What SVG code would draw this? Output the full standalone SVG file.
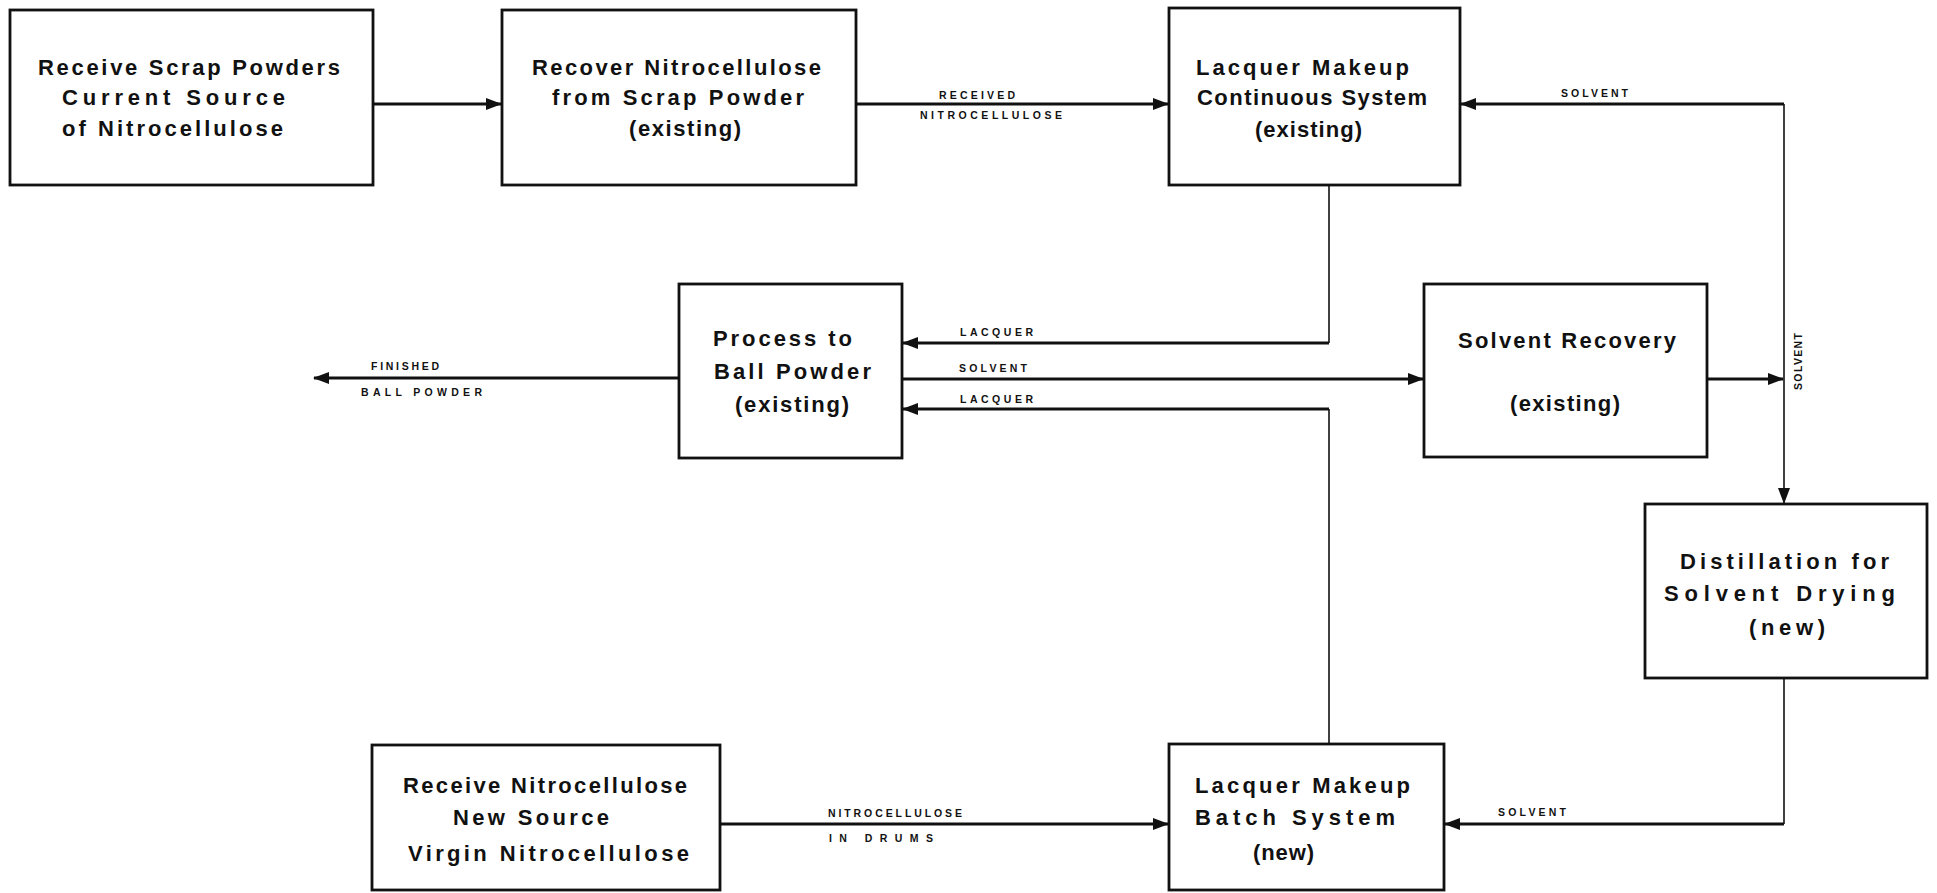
<svg xmlns="http://www.w3.org/2000/svg" width="1937" height="893" viewBox="0 0 1937 893">
<defs>
<marker id="arr" markerUnits="userSpaceOnUse" markerWidth="16" markerHeight="12" refX="15" refY="6" orient="auto">
<path d="M0,0 L16,6 L0,12 z" fill="#111"/>
</marker>
<style>
.box{fill:#fff;stroke:#111;stroke-width:2.8}
.t{font-family:"Liberation Sans",Arial,sans-serif;font-weight:bold;font-size:22px;fill:#111;text-anchor:start}
.s{font-family:"Liberation Sans",Arial,sans-serif;font-weight:bold;font-size:10.5px;fill:#111;text-anchor:start}
.c{fill:none;stroke:#111;stroke-width:2.8}
.ct{fill:none;stroke:#111;stroke-width:1.6}
</style>
</defs>
<rect width="1937" height="893" fill="#fff"/>

<g id="connectors">
<path class="c" d="M373,104 H501" marker-end="url(#arr)"/>
<path class="c" d="M856,104 H1168" marker-end="url(#arr)"/>
<path class="c" d="M1784,104 H1461" marker-end="url(#arr)"/>
<path class="ct" d="M1784,104 V503" marker-end="url(#arr)"/>
<path class="c" d="M1707,379 H1783" marker-end="url(#arr)"/>
<path class="ct" d="M1329,185 V343"/>
<path class="c" d="M1329,343 H903" marker-end="url(#arr)"/>
<path class="c" d="M902,379 H1423" marker-end="url(#arr)"/>
<path class="ct" d="M1329,744 V409"/>
<path class="c" d="M1329,409 H903" marker-end="url(#arr)"/>
<path class="c" d="M679,378 H314" marker-end="url(#arr)"/>
<path class="c" d="M720,824 H1168" marker-end="url(#arr)"/>
<path class="ct" d="M1784,678 V824"/>
<path class="c" d="M1784,824 H1445" marker-end="url(#arr)"/>
<text class="s" x="939" y="99" textLength="76" lengthAdjust="spacing">RECEIVED</text>
<text class="s" x="920" y="119" textLength="142" lengthAdjust="spacing">NITROCELLULOSE</text>
<text class="s" x="1561" y="97" textLength="67" lengthAdjust="spacing">SOLVENT</text>
<text class="s" transform="translate(1802,390) rotate(-90)" x="0" y="0" textLength="57" lengthAdjust="spacing">SOLVENT</text>
<text class="s" x="960" y="336" textLength="73" lengthAdjust="spacing">LACQUER</text>
<text class="s" x="959" y="372" textLength="68" lengthAdjust="spacing">SOLVENT</text>
<text class="s" x="960" y="403" textLength="73" lengthAdjust="spacing">LACQUER</text>
<text class="s" x="371" y="370" textLength="68" lengthAdjust="spacing">FINISHED</text>
<text class="s" x="361" y="396" textLength="121" lengthAdjust="spacing">BALL POWDER</text>
<text class="s" x="828" y="817" textLength="134" lengthAdjust="spacing">NITROCELLULOSE</text>
<text class="s" x="829" y="842" textLength="104" lengthAdjust="spacing">IN DRUMS</text>
<text class="s" x="1498" y="816" textLength="68" lengthAdjust="spacing">SOLVENT</text>
</g>

<g id="n1">
<rect class="box" x="10" y="10" width="363" height="175"/>
<text class="t" x="38" y="75" textLength="302" lengthAdjust="spacing">Receive Scrap Powders</text>
<text class="t" x="62" y="105" textLength="223" lengthAdjust="spacing">Current   Source</text>
<text class="t" x="62" y="136" textLength="221" lengthAdjust="spacing">of Nitrocellulose</text>
</g>

<g id="n2">
<rect class="box" x="502" y="10" width="354" height="175"/>
<text class="t" x="532" y="75" textLength="289" lengthAdjust="spacing">Recover Nitrocellulose</text>
<text class="t" x="552" y="105" textLength="252" lengthAdjust="spacing">from Scrap Powder</text>
<text class="t" x="629" y="136" textLength="112" lengthAdjust="spacing">(existing)</text>
</g>

<g id="n3">
<rect class="box" x="1169" y="8" width="291" height="177"/>
<text class="t" x="1196" y="75" textLength="213" lengthAdjust="spacing">Lacquer Makeup</text>
<text class="t" x="1197" y="105" textLength="230" lengthAdjust="spacing">Continuous System</text>
<text class="t" x="1255" y="137" textLength="107" lengthAdjust="spacing">(existing)</text>
</g>

<g id="n4">
<rect class="box" x="679" y="284" width="223" height="174"/>
<text class="t" x="713" y="346" textLength="139" lengthAdjust="spacing">Process to</text>
<text class="t" x="714" y="379" textLength="157" lengthAdjust="spacing">Ball Powder</text>
<text class="t" x="735" y="412" textLength="114" lengthAdjust="spacing">(existing)</text>
</g>

<g id="n5">
<rect class="box" x="1424" y="284" width="283" height="173"/>
<text class="t" x="1458" y="348" textLength="218" lengthAdjust="spacing">Solvent Recovery</text>
<text class="t" x="1510" y="411" textLength="110" lengthAdjust="spacing">(existing)</text>
</g>

<g id="n6">
<rect class="box" x="1645" y="504" width="282" height="174"/>
<text class="t" x="1680" y="569" textLength="209" lengthAdjust="spacing">Distillation for</text>
<text class="t" x="1664" y="601" textLength="231" lengthAdjust="spacing">Solvent Drying</text>
<text class="t" x="1749" y="635" textLength="76" lengthAdjust="spacing">(new)</text>
</g>

<g id="n7">
<rect class="box" x="372" y="745" width="348" height="145"/>
<text class="t" x="403" y="793" textLength="284" lengthAdjust="spacing">Receive Nitrocellulose</text>
<text class="t" x="453" y="825" textLength="156" lengthAdjust="spacing">New Source</text>
<text class="t" x="408" y="861" textLength="281" lengthAdjust="spacing">Virgin Nitrocellulose</text>
</g>

<g id="n8">
<rect class="box" x="1169" y="744" width="275" height="146"/>
<text class="t" x="1195" y="793" textLength="215" lengthAdjust="spacing">Lacquer Makeup</text>
<text class="t" x="1195" y="825" textLength="200" lengthAdjust="spacing">Batch System</text>
<text class="t" x="1253" y="860" textLength="61" lengthAdjust="spacing">(new)</text>
</g>
</svg>
